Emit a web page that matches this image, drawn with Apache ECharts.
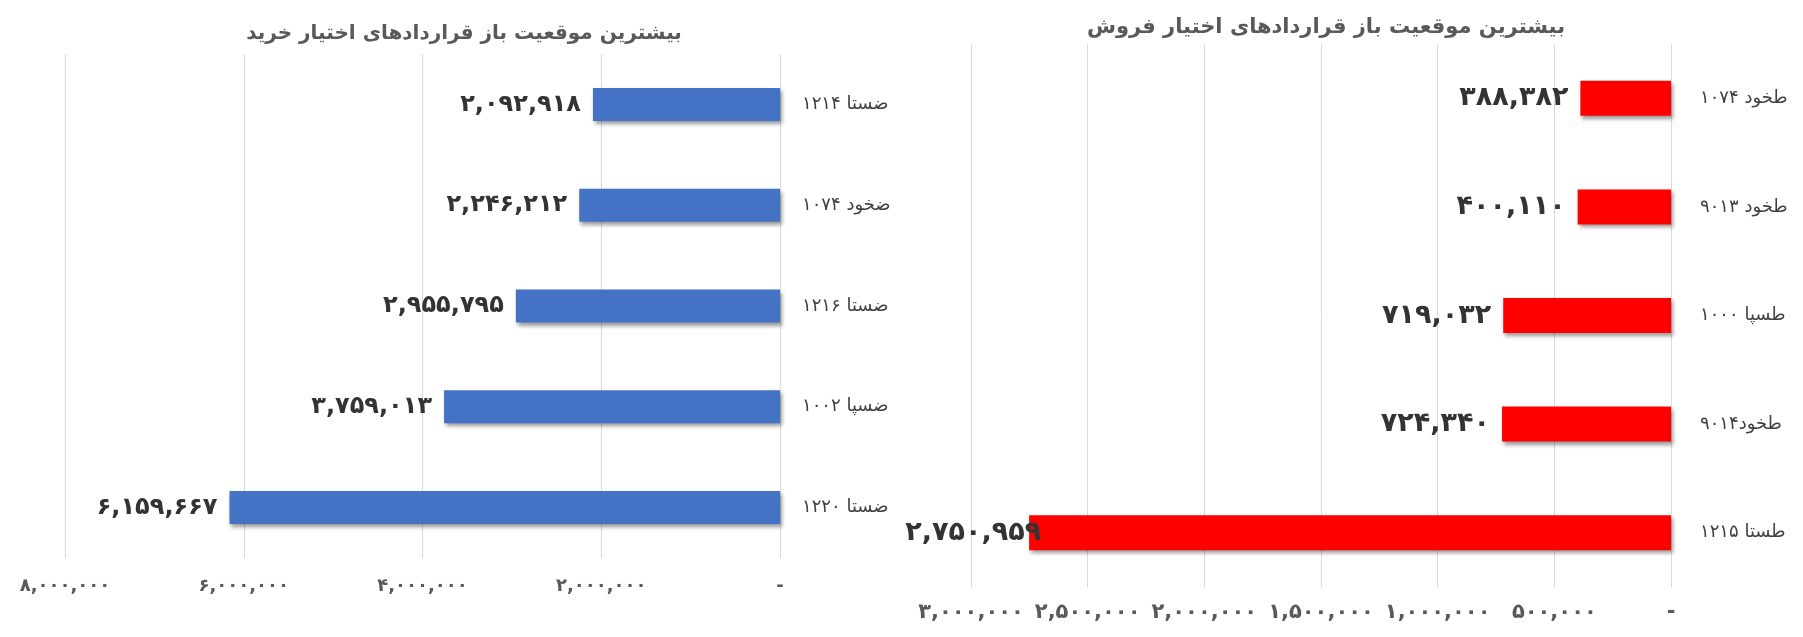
<!DOCTYPE html>
<html>
<head>
<meta charset="utf-8">
<script src="https://cdn.jsdelivr.net/npm/echarts@6/dist/echarts.min.js"></script>
<style>
  html, body { margin: 0; padding: 0; background: #fff; }
  #chart { width: 1803px; height: 637px; }
</style>
</head>
<body>
<div id="chart"></div>
<script>
// left chart: call options (خرید)
const buyTitle = 'بیشترین موقعیت باز قراردادهای اختیار خرید'
const buyNames = ['ضستا ۱۲۱۴', 'ضخود ۱۰۷۴', 'ضستا ۱۲۱۶', 'ضسپا ۱۰۰۲', 'ضستا ۱۲۲۰']
const buyValues = [2092918, 2246212, 2955795, 3759013, 6159667]
const buyTicks = [0, 2000000, 4000000, 6000000, 8000000]

// right chart: put options (فروش)
const sellTitle = 'بیشترین موقعیت باز قراردادهای اختیار فروش'
const sellNames = ['طخود ۱۰۷۴', 'طخود ۹۰۱۳', 'طسپا ۱۰۰۰', 'طخود۹۰۱۴', 'طستا ۱۲۱۵']
const sellValues = [388382, 400110, 719032, 724340, 2750959]
const sellTicks = [0, 500000, 1000000, 1500000, 2000000, 2500000, 3000000]

const FONT = "'DejaVu Sans', sans-serif"
const faDigits = '۰۱۲۳۴۵۶۷۸۹'

// 1234567 -> ۱,۲۳۴,۵۶۷
function toFa(n) {
  const s = Math.round(n).toString().replace(/\B(?=(\d{3})+(?!\d))/g, ',')
  return s.replace(/\d/g, d => faDigits[d])
}

function valueAxis(gridIndex, ticks, labelSize, labelMargin) {
  return {
    gridIndex: gridIndex,
    type: 'value',
    inverse: true,
    min: ticks[0],
    max: ticks[ticks.length - 1],
    interval: ticks[1] - ticks[0],
    axisLine: { show: false },
    axisTick: { show: false },
    splitLine: { show: true, lineStyle: { color: '#d9d9d9', width: 1 } },
    axisLabel: {
      margin: labelMargin,
      color: '#595959',
      fontFamily: FONT,
      fontWeight: 'bold',
      fontSize: labelSize,
      formatter: v => (v === 0 ? '-' : toFa(v))
    }
  }
}

function categoryAxis(gridIndex, names, margin) {
  return {
    gridIndex: gridIndex,
    type: 'category',
    data: names,
    inverse: true,
    position: 'right',
    axisLine: { show: false },
    axisTick: { show: false },
    axisLabel: {
      margin: margin,
      color: '#404040',
      fontFamily: FONT,
      fontSize: 18
    }
  }
}

function barSeries(index, values, color, barWidth, labelSize) {
  return {
    type: 'bar',
    xAxisIndex: index,
    yAxisIndex: index,
    barWidth: barWidth,
    data: values,
    itemStyle: {
      color: color,
      shadowColor: 'rgba(0,0,0,0.4)',
      shadowBlur: 4,
      shadowOffsetX: 2,
      shadowOffsetY: 3
    },
    label: {
      show: true,
      position: 'left',
      distance: 12,
      color: '#333333',
      fontFamily: FONT,
      fontWeight: 'bold',
      fontSize: labelSize,
      formatter: p => toFa(p.value)
    }
  }
}

const chart = echarts.init(document.getElementById('chart'))

const sellSeries = barSeries(1, sellValues, '#ff0000', 35, 27)
// biggest put label is pushed over the bar edge, as in the picture
sellSeries.data = sellValues.map((v, i) =>
  i === sellValues.length - 1 ? { value: v, label: { distance: -12 } } : v)

chart.setOption({
  animation: false,
  title: [
    {
      text: buyTitle,
      left: 459,
      top: 19,
      textAlign: 'center',
      textStyle: { fontFamily: FONT, fontSize: 20, fontWeight: 'bold', color: '#595959' }
    },
    {
      text: sellTitle,
      left: 1321,
      top: 12,
      textAlign: 'center',
      textStyle: { fontFamily: FONT, fontSize: 21, fontWeight: 'bold', color: '#595959' }
    }
  ],
  grid: [
    { left: 65, right: 1023, top: 54, bottom: 79, containLabel: false },
    { left: 971, right: 132, top: 44, bottom: 50, containLabel: false }
  ],
  xAxis: [
    valueAxis(0, buyTicks, 18, 19),
    valueAxis(1, sellTicks, 21, 15)
  ],
  yAxis: [
    categoryAxis(0, buyNames, 22),
    categoryAxis(1, sellNames, 29)
  ],
  series: [
    barSeries(0, buyValues, '#4472c4', 33, 24),
    sellSeries
  ]
})
</script>
</body>
</html>
